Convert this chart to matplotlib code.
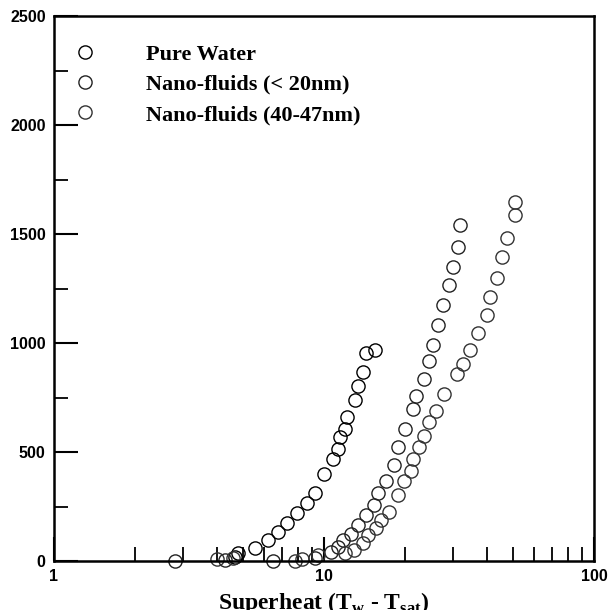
import matplotlib
matplotlib.use("Agg")
import matplotlib.pyplot as plt
from matplotlib.ticker import FixedLocator, NullFormatter, LogLocator

# Data (superheat in K, heat flux)
water_x = [4.68, 4.8, 5.55, 6.2, 6.77, 7.3, 7.97, 8.67, 9.3, 10.0, 10.8, 11.3, 11.5,
           12.0, 12.2, 13.0, 13.4, 14.0, 14.3, 15.4]
water_y = [18, 37, 60, 97, 134, 176, 222, 268, 314, 397, 467, 513, 568,
           605, 661, 739, 804, 869, 952, 966]

nano20_x = [2.8, 4.3, 6.5, 9.3, 10.6, 11.3, 11.8, 12.6, 13.4, 14.3, 15.3, 15.8, 16.9,
            18.2, 18.8, 19.9, 21.4, 21.9, 23.5, 24.5, 25.4, 26.5, 27.6, 29.1, 30.1,
            31.4, 32.0]
nano20_y = [0, 5, 0, 15, 42, 65, 97, 125, 166, 213, 259, 314, 365,
            439, 522, 605, 698, 758, 836, 919, 989, 1081, 1173, 1266, 1349,
            1441, 1543]

nano40_x = [4.0, 4.6, 7.8, 8.3, 9.5, 12.0, 12.9, 13.9, 14.6, 15.6, 16.2, 17.4, 18.8,
            19.8, 21.0, 21.4, 22.5, 23.5, 24.5, 26.0, 27.9, 31.2, 32.8, 34.8, 37.3,
            40.0, 41.3, 43.9, 45.8, 47.8, 50.8, 50.8]
nano40_y = [8, 12, 0, 8, 28, 37, 51, 83, 120, 152, 189, 226, 305,
            365, 411, 467, 522, 573, 638, 688, 767, 859, 905, 966, 1044,
            1127, 1210, 1298, 1395, 1483, 1585, 1645]

labels = ["Pure Water", "Nano-fluids (< 20nm)", "Nano-fluids (40-47nm)"]
y_ticks = [0, 500, 1000, 1500, 2000, 2500]

fig = plt.figure(figsize=(6.08, 6.10), dpi=100)
ax = fig.add_axes([54/608, 1 - 561/610, (594 - 54)/608, (561 - 16)/610])

mk = dict(marker="o", linestyle="none", markersize=9.5, markerfacecolor="none",
          markeredgewidth=1.0, clip_on=False)
ax.plot(water_x, water_y, markeredgecolor="black", label=labels[0], **mk)
ax.plot(nano20_x, nano20_y, markeredgecolor="#222222", label=labels[1], **mk)
ax.plot(nano40_x, nano40_y, markeredgecolor="#333333", label=labels[2], **mk)

ax.set_xscale("log")
ax.set_xlim(1, 100)
ax.set_ylim(0, 2500)

ax.yaxis.set_major_locator(FixedLocator(y_ticks))
ax.yaxis.set_minor_locator(FixedLocator([250, 750, 1250, 1750, 2250]))
ax.xaxis.set_minor_locator(LogLocator(base=10, subs=range(2, 10)))
ax.xaxis.set_minor_formatter(NullFormatter())
ax.set_xticks([1, 10, 100])
ax.set_xticklabels(["1", "10", "100"])

ax.tick_params(which="major", direction="in", length=17, width=1.5,
               top=False, right=False, labelsize=11.5, pad=6)
ax.tick_params(which="minor", direction="in", length=10, width=1.3,
               top=False, right=False)
for lab in ax.get_xticklabels() + ax.get_yticklabels():
    lab.set_fontfamily("Liberation Sans")
    lab.set_fontweight("bold")
for s in ax.spines.values():
    s.set_linewidth(1.8)

ax.set_xlabel(r"Superheat (T$_\mathregular{w}$ - T$_\mathregular{sat}$)",
              fontfamily="Liberation Serif", fontweight="bold", fontsize=17,
              labelpad=4)

leg = ax.legend(loc="upper left", bbox_to_anchor=(0.0, 0.989), frameon=False,
                handlelength=0.8, handletextpad=2.33, labelspacing=0.43,
                borderaxespad=0.6,
                prop={"family": "Liberation Serif", "weight": "bold", "size": 16})

fig.savefig("out.png", dpi=100)
